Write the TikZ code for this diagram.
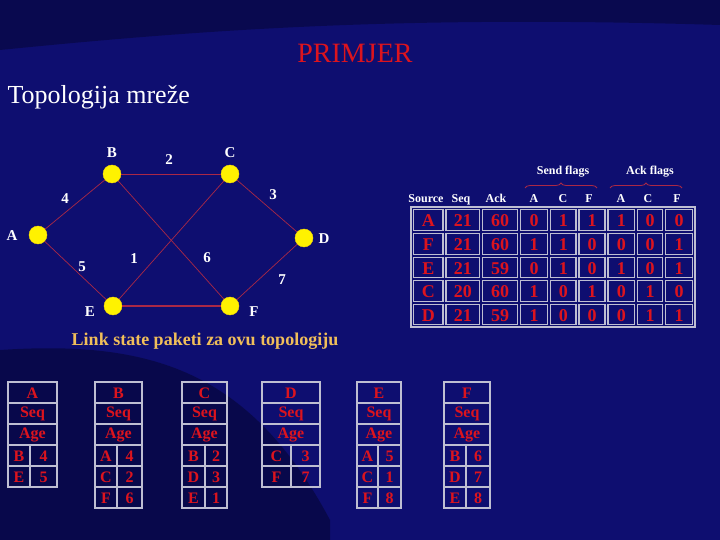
\documentclass[tikz,border=0pt]{standalone}
\usepackage{fontspec}
\setmainfont{Liberation Serif}
\usetikzlibrary{decorations.pathreplacing}
\definecolor{bg}{RGB}{14,14,112}
\definecolor{bgdark}{RGB}{4,4,40}
\definecolor{tred}{RGB}{220,20,30}
\definecolor{edge}{RGB}{170,40,70}
\definecolor{cellb}{RGB}{190,190,210}
\definecolor{gold}{RGB}{240,190,90}
\begin{document}
\begin{tikzpicture}[x=1pt,y=-1pt,
  vert/.style={circle,fill=yellow,draw=yellow!80!orange,minimum size=18pt,inner sep=0pt},
  vlab/.style={text=white,font=\bfseries\fontsize{15}{15}\selectfont},
  wlab/.style={text=white,font=\bfseries\fontsize{15}{15}\selectfont},
  ln/.style={draw=edge,line width=0.7pt},
  cell/.style={draw=cellb,line width=1.2pt},
  ct/.style={text=tred,font=\bfseries\fontsize{18}{18}\selectfont},
  st/.style={text=tred,font=\bfseries\fontsize{16}{16}\selectfont},
  hd/.style={text=white,font=\bfseries\fontsize{12}{12}\selectfont,anchor=base}]
\useasboundingbox (0,0) rectangle (720,540);
\fill[bg] (0,0) rectangle (720,540);
\fill[bgdark,opacity=0.45] (0,0) -- (720,0) -- (720,25) .. controls (400,15) and (200,30) .. (0,50) -- cycle;
\fill[bgdark,opacity=0.5] (0,350) .. controls (150,340) and (250,370) .. (330,520) -- (330,540) -- (0,540) -- cycle;
\node[text=tred,font=\fontsize{28}{28}\selectfont] (title) at (355,53) {PRIMJER};
\node[text=white,font=\fontsize{26}{26}\selectfont,anchor=west] (topo) at (4,97) {Topologija mreže};
% graph
\node[vert] (B) at (112,174) {};
\node[vert] (C) at (230,174) {};
\node[vert] (A) at (38,235) {};
\node[vert] (D) at (304,238) {};
\node[vert] (E) at (113,306) {};
\node[vert] (F) at (230,306) {};
\draw[ln] (A)--(B); \draw[ln] (B)--(C); \draw[ln] (C)--(D);
\draw[ln] (A)--(E); \draw[ln] (E)--(C); \draw[ln] (B)--(F);
\draw[ln] (D)--(F); \draw[draw=edge,line width=1.5pt] (E)--(F);
\node[vlab] (lB) at (112,153) {B};
\node[vlab] (lC) at (230,153) {C};
\node[vlab] (lA) at (12,236) {A};
\node[vlab] (lD) at (324,239) {D};
\node[vlab] (lE) at (90,312) {E};
\node[vlab] (lF) at (254,312) {F};
\node[wlab] (w2) at (169,160) {2};
\node[wlab] (w4) at (65,199) {4};
\node[wlab] (w3) at (273,195) {3};
\node[wlab] (w5) at (82,267) {5};
\node[wlab] (w1) at (134,259) {1};
\node[wlab] (w6) at (207,258) {6};
\node[wlab] (w7) at (282,280) {7};
% top table
\foreach \h/\x in {Source/426,Seq/461,Ack/496,A/534,C/563,F/589,A/621,C/648,F/677}
  \node[hd] at (\x,203) {\h};
\node[hd] (sf) at (563,175) {Send flags};
\node[hd] (af) at (650,175) {Ack flags};
\draw[edge,line width=0.8pt,decorate,decoration={brace,amplitude=5pt}] (525,188) -- (597,188);
\draw[edge,line width=0.8pt,decorate,decoration={brace,amplitude=5pt}] (610,188) -- (682,188);
\draw[cell] (411,207) rectangle (695,327);
\def\colx{{412,444.5,481,519,549,577.5,606.5,636,664,694}}
\def\rowy{{208,232,256,279,303,326}}
\foreach \r/\vals in {0/{A,21,60,0,1,1,1,0,0},1/{F,21,60,1,1,0,0,0,1},2/{E,21,59,0,1,0,1,0,1},3/{C,20,60,1,0,1,0,1,0},4/{D,21,59,1,0,0,0,1,1}}{
  \foreach \v [count=\c from 0] in \vals {
    \pgfmathsetmacro\xa{\colx[\c]+1.5}\pgfmathsetmacro\xb{\colx[\c+1]-1.5}
    \pgfmathsetmacro\ya{\rowy[\r]+1.5}\pgfmathsetmacro\yb{\rowy[\r+1]-1.5}
    \draw[cell] (\xa,\ya) rectangle (\xb,\yb);
    \node[ct] at ({(\xa+\xb)/2},{(\ya+\yb)/2+1}) {\v};
  }
}
\node[text=gold,font=\bfseries\fontsize{18}{18}\selectfont] (lsp) at (205,341) {Link state paketi za ovu topologiju};
% bottom tables
\foreach \n/\xl/\xm/\xr/\ents in {A/8/30/57/{B/4,E/5},B/95/117/142/{A/4,C/2,F/6},C/182/205/227/{B/2,D/3,E/1},D/262/291/320/{C/3,F/7},E/357/378/401/{A/5,C/1,F/8},F/444/466/490/{B/6,D/7,E/8}}{
  \foreach \t [count=\i from 0] in {\n,Seq,Age}{
    \draw[cell] (\xl,{382+21*\i}) rectangle (\xr,{403+21*\i});
    \node[st] at ({(\xl+\xr)/2},{393+21*\i}) {\t};
  }
  \foreach \p/\q [count=\i from 3] in \ents{
    \draw[cell] (\xl,{382+21*\i}) rectangle (\xm,{403+21*\i});
    \draw[cell] (\xm,{382+21*\i}) rectangle (\xr,{403+21*\i});
    \node[st] at ({(\xl+\xm)/2},{393+21*\i}) {\p};
    \node[st] at ({(\xm+\xr)/2},{393+21*\i}) {\q};
  }
}
\end{tikzpicture}
\end{document}
